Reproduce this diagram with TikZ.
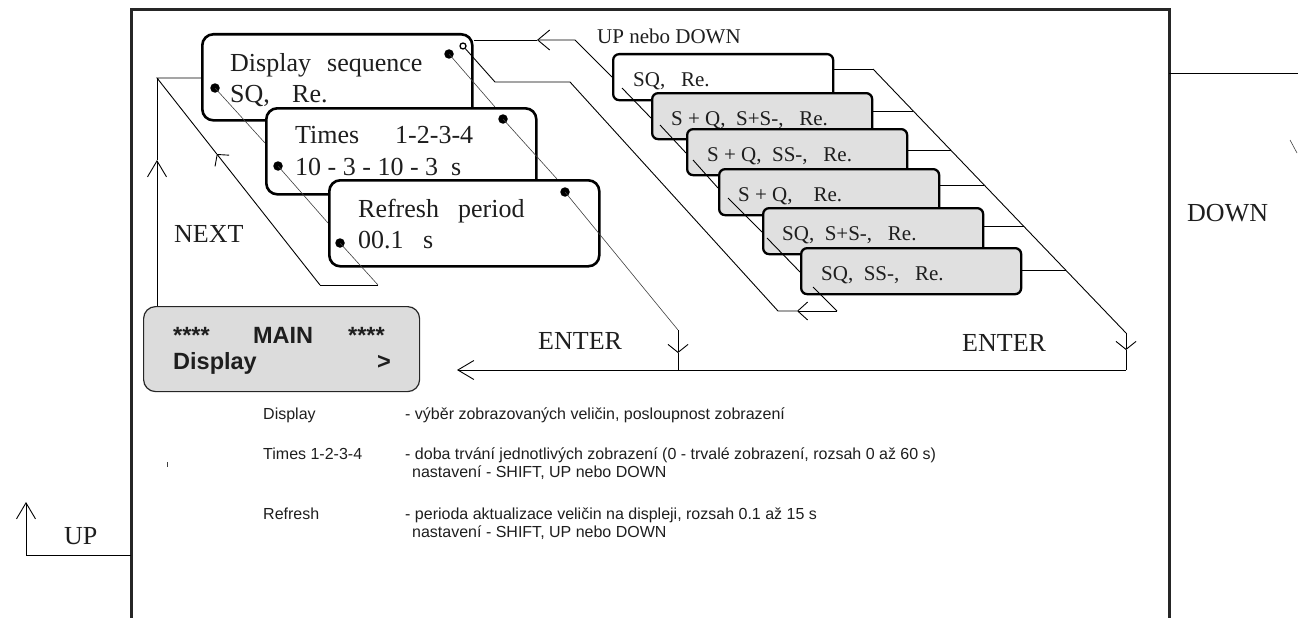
\documentclass[tikz,border=0pt]{standalone}
\usepackage{fontspec}
\setmainfont{Liberation Serif}
\newfontfamily\panelsans{Liberation Sans}
\usetikzlibrary{arrows.meta,calc}

\definecolor{framecol}{HTML}{262626}
\definecolor{itemfill}{HTML}{E0E0E0}
\definecolor{mainfill}{HTML}{DCDCDC}
\definecolor{inkcol}{HTML}{1E1E1E}

% fixed-width text group, so columns line up as on the panel
\newcommand{\fixw}[2]{\makebox[#1][l]{#2}}

\tikzset{
  lcd/.style={draw=black, line width=2.6pt, rounded corners=11pt, fill=white,
    minimum width=270pt, minimum height=86pt, inner sep=0pt, anchor=north west},
  item/.style={draw=black, line width=2.3pt, rounded corners=6pt, fill=white,
    minimum width=220pt, minimum height=46pt, inner sep=0pt, anchor=north west},
  itemg/.style={item, fill=itemfill},
  mainbox/.style={draw=black!85, line width=1.2pt, rounded corners=12pt, fill=mainfill,
    minimum width=276pt, minimum height=85pt, inner sep=0pt, anchor=north west},
  wire/.style={draw=black, line width=0.9pt},
  fine/.style={draw=black!75, line width=0.6pt},
  frameline/.style={draw=framecol, line width=3pt},
  dot/.style={circle, fill=black, inner sep=0pt, minimum size=9.5pt},
  ring/.style={circle, draw=black, line width=1.3pt, fill=white, inner sep=0pt, minimum size=6pt},
  txt/.style={anchor=base west, inner sep=0pt, text=inkcol},
  big/.style={txt, font=\fontsize{26}{31}\selectfont},
  small/.style={txt, font=\fontsize{21}{25}\selectfont},
  note/.style={txt, font=\panelsans\fontsize{16}{19}\selectfont},
  mainfont/.style={txt, font=\panelsans\bfseries\fontsize{23.5}{26}\selectfont},
  tipN/.style={-{Straight Barb[length=16pt,width=19pt]}},
  tipW/.style={-{Straight Barb[length=8pt,width=20pt]}},
  tipM/.style={-{Straight Barb[length=12pt,width=20pt]}},
  tipS/.style={-{Straight Barb[length=10pt,width=18pt]}},
  tipG/.style={-{Straight Barb[length=8pt,width=18pt]}},
}

\begin{document}
\begin{tikzpicture}[x=1pt,y=-1pt]
\useasboundingbox (0,0) rectangle (1298,618);

% ---- outer frame and the keys leaving it
\draw[frameline] (131,618) -- (131,10) -- (1169,10) -- (1169,618);
\coordinate (fl) at (131,555);
\coordinate (upc) at (26,555);
\coordinate (upt) at (26,502);
\draw[wire,tipN] (fl) -- (upc) -- (upt);
\node[big] (up) at (64,544) {UP};
\coordinate (fr) at (1169,73);
\coordinate (fre) at (1298,73);
\draw[wire] (fr) -- (fre);
\coordinate (da) at (1290,140);
\coordinate (db) at (1297,153);
\draw[fine] (da) -- (db);
\node[big] (down) at (1187,221) {DOWN};
\coordinate (tk1) at (167,462);
\coordinate (tk2) at (167,467);
\draw[fine] (tk1) -- (tk2);

% ---- corner points of the boxes
\coordinate (p1) at (201,33);
\coordinate (p2) at (265,107);
\coordinate (p3) at (328,179);
\coordinate (c1) at (612,53);
\coordinate (c2) at (651,92);
\coordinate (c3) at (686,128);
\coordinate (c4) at (718,168);
\coordinate (c5) at (762,207);
\coordinate (c6) at (800,247);

% ---- main menu screen
\node[mainbox] (main) at (143,306) {};
\node[mainfont] (mainA) at (173,343) {\fixw{80pt}{****}\fixw{95pt}{MAIN}****};
\node[mainfont] (mainB) at (173,369) {\fixw{204pt}{Display}>};

% ---- screen 1: display sequence
\node[lcd] (seq) at (p1) {};
\node[big] (seqA) at ($(p1)+(29,38)$) {\fixw{97pt}{Display}sequence};
\node[big] (seqB) at ($(p1)+(29,69)$) {\fixw{62pt}{SQ,}Re.};
\node[dot] (s1l) at (215,88) {};
\node[dot] (s1r) at (449,54) {};
\node[ring] (s1o) at (463,46) {};
\draw[fine] (s1l.center) -- ($(p2)+(0,36)$);
\draw[fine] (s1r.center) -- ($(p2)+(230,0)$);

% ---- screen 2: times
\node[lcd] (tim) at (p2) {};
\node[big] (timA) at ($(p2)+(30,36)$) {\fixw{100pt}{Times}1-2-3-4};
\node[big] (timB) at ($(p2)+(30,68)$) {10 - 3 - 10 - 3~~s};
\node[dot] (s2l) at (278,166) {};
\node[dot] (s2r) at (503,119) {};
\draw[fine] (s2l.center) -- ($(p3)+(0,44)$);
\draw[fine] (s2r.center) -- ($(p3)+(229,0)$);

% ---- screen 3: refresh period
\node[lcd] (ref) at (p3) {};
\node[big] (refA) at ($(p3)+(30,38)$) {\fixw{100pt}{Refresh}period};
\node[big] (refB) at ($(p3)+(30,69)$) {\fixw{65pt}{00.1}s};
\node[dot] (s3l) at (340,243) {};
\node[dot] (s3r) at (565,192) {};

% ---- NEXT loop
\coordinate (nb) at (320,285);
\coordinate (nb2) at (378,285);
\coordinate (ng) at (216.8,154);
\coordinate (nt) at (157,78);
\coordinate (nv) at (157,160);
\draw[fine] (s3l.center) -- (nb2);
\draw[wire] (nb2) -- (nb);
\draw[wire,tipG] (nb) -- (ng);
\draw[wire] (ng) -- (nt) -- (nt -| seq.west);
\draw[wire,tipN] (main.north -| nt) -- (nv);
\draw[wire] (nv) -- (nt);
\node[big] (next) at (174,242) {NEXT};

% ---- ENTER from the refresh screen and from the list
\coordinate (e1) at (678,330);
\coordinate (e1a) at (678,353);
\coordinate (e1b) at (678,370);
\coordinate (e2t) at (873,69);
\coordinate (e2) at (1126,333);
\coordinate (e2a) at (1126,350);
\coordinate (e2b) at (1126,370);
\coordinate (eL) at (457,370);
\draw[fine] (s3r.center) -- (e1);
\draw[wire,tipW] (e1) -- (e1a);
\draw[wire] (e1a) -- (e1b);
\draw[wire,tipN] (e2b) -- (eL);
\draw[wire] (e2t) -- (e2);
\draw[wire,tipW] (e2) -- (e2a);
\draw[wire] (e2a) -- (e2b);
\node[big] (ent1) at (538,349) {ENTER};
\node[big] (ent2) at (962,351) {ENTER};

% ---- UP nebo DOWN into the list
\coordinate (u1) at (575,40);
\coordinate (u2) at (537,40);
\draw[wire,tipM] ($(c1)+(0,24)$) -- (u1) -- (u2);
\draw[wire] (u2) -- (seq.east |- u2);
\node[small] (upd) at (597,44) {UP nebo DOWN};

% ---- return from the end of the list
\coordinate (o1) at (495,82);
\coordinate (o2) at (570,82);
\coordinate (o3) at (778,311);
\coordinate (o4) at (797,311);
\coordinate (o5) at (837,311);
\draw[wire,tipS] (o5) -- (o4);
\draw[wire] (o4) -- (o3) -- (o2) -- (o1) -- (s1o);

% ---- list of display sequences
\node[item] (L1) at (c1) {};
\node[small] (t1) at ($(c1)+(21,33)$) {SQ,~~~Re.};
\draw[wire] ($(c1)+(10,35)$) -- ($(c2)+(0,26)$);
\node[itemg] (L2) at (c2) {};
\node[small] (t2) at ($(c2)+(20,33)$) {S + Q,~~S+S-,~~~Re.};
\draw[wire] ($(c2)+(9,33)$) -- ($(c3)+(0,25)$);
\node[itemg] (L3) at (c3) {};
\node[small] (t3) at ($(c3)+(21,33)$) {S + Q,~~SS-,~~~Re.};
\draw[wire] ($(c3)+(7,32)$) -- ($(c4)+(0,20)$);
\node[itemg] (L4) at (c4) {};
\node[small] (t4) at ($(c4)+(20,33)$) {S + Q,~~~~Re.};
\draw[wire] ($(c4)+(10,30)$) -- ($(c5)+(0,25)$);
\node[itemg] (L5) at (c5) {};
\node[small] (t5) at ($(c5)+(20,33)$) {SQ,~~S+S-,~~~Re.};
\draw[wire] ($(c5)+(5,31)$) -- ($(c6)+(0,25)$);
\node[itemg] (L6) at (c6) {};
\node[small] (t6) at ($(c6)+(21,33)$) {SQ,~~SS-,~~~Re.};
\draw[wire] ($(c6)+(13,40)$) -- (o5);

% ---- links from each list entry to the ENTER line
\coordinate (r1) at (873,69);
\coordinate (r2) at (913.3,111);
\coordinate (r3) at (950.6,150);
\coordinate (r4) at (984.2,185);
\coordinate (r5) at (1023.5,226);
\coordinate (r6) at (1065.6,270);
\draw[wire] (L1.east |- r1) -- (r1);
\draw[wire] (L2.east |- r2) -- (r2);
\draw[wire] (L3.east |- r3) -- (r3);
\draw[wire] (L4.east |- r4) -- (r4);
\draw[wire] (L5.east |- r5) -- (r5);
\draw[wire] (L6.east |- r6) -- (r6);

% ---- key to the menu items
\node[note] (d1) at (263,419) {Display};
\node[note] (d1t) at (405,419) {- výběr zobrazovaných veličin, posloupnost zobrazení};
\node[note] (d2) at (263,459) {Times 1-2-3-4};
\node[note] (d2t) at (405,459) {- doba trvání jednotlivých zobrazení (0 - trvalé zobrazení, rozsah 0 až 60 s)};
\node[note] (d2n) at (412,477) {nastavení - SHIFT, UP nebo DOWN};
\node[note] (d3) at (263,519) {Refresh};
\node[note] (d3t) at (405,519) {- perioda aktualizace veličin na displeji, rozsah 0.1 až 15 s};
\node[note] (d3n) at (412,537) {nastavení - SHIFT, UP nebo DOWN};
\end{tikzpicture}
\end{document}
